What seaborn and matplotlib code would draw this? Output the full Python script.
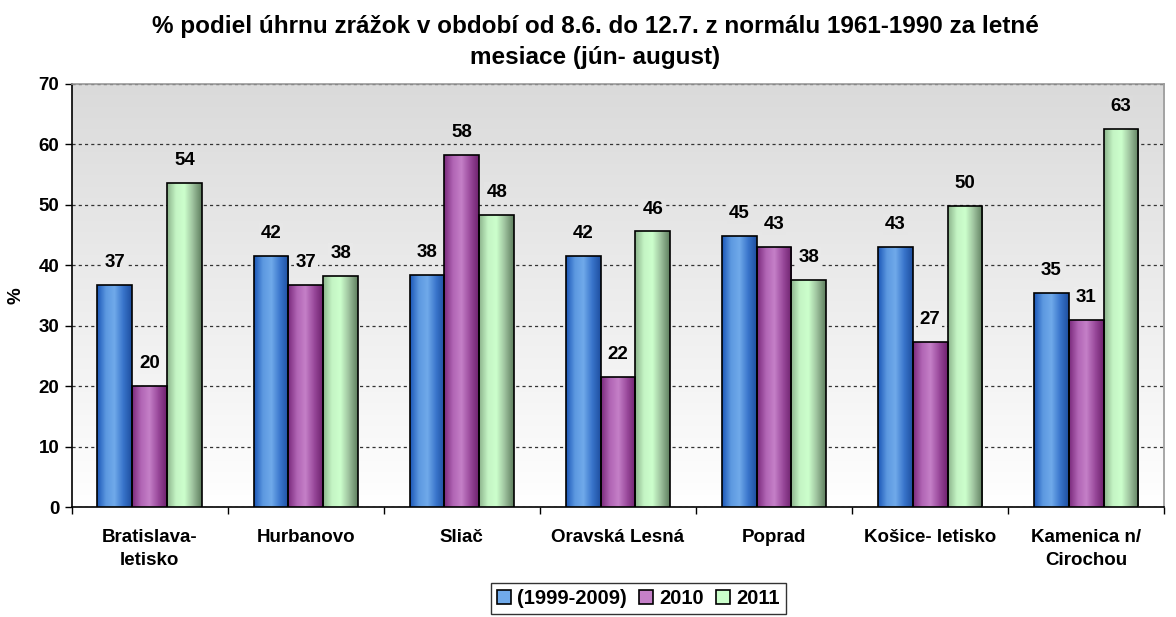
import numpy as np
import pandas as pd
import seaborn as sns
import matplotlib.pyplot as plt
from matplotlib.colors import LinearSegmentedColormap
from matplotlib.patches import Patch

stations = ["Bratislava-\nletisko", "Hurbanovo", "Sliač", "Oravská Lesná",
            "Poprad", "Košice- letisko", "Kamenica n/\nCirochou"]
series = ["(1999-2009)", "2010", "2011"]
v_norm = [36.8, 41.6, 38.4, 41.6, 44.8, 43.1, 35.4]
v_2010 = [20.0, 36.8, 58.3, 21.6, 43.1, 27.3, 31.0]
v_2011 = [53.6, 38.2, 48.3, 45.6, 37.6, 49.8, 62.6]

title = "% podiel úhrnu zrážok v období od 8.6. do 12.7. z normálu 1961-1990 za letné\nmesiace (jún- august)"

df = pd.DataFrame({
    "station": stations * 3,
    "series": [s for s in series for _ in stations],
    "value": v_norm + v_2010 + v_2011,
})

sns.set_style("white")
plt.rcParams['font.family'] = ['Liberation Sans', 'DejaVu Sans']
plt.rcParams['font.weight'] = 'bold'
for k in ['text.color', 'axes.labelcolor', 'xtick.color', 'ytick.color']:
    plt.rcParams[k] = 'black'

flat = ["#4f8ad8", "#a855a8", "#b8e8b8"]
grads = [
    ["#1c58b8", "#5c98e0", "#70aaea", "#3a76cc", "#1e4fa0"],
    ["#7a2a7c", "#b064b4", "#c580c8", "#9a4a9c", "#6e226e"],
    ["#8cb48c", "#c4f4c4", "#ccffcc", "#9cc09c", "#5f7f5f"],
]
FS = 13.5

fig = plt.figure(figsize=(11.76, 6.17), dpi=100)
ax = fig.add_axes([0.061, 0.178, 0.929, 0.686])

sns.barplot(data=df, x="station", y="value", hue="series", palette=flat,
            width=0.67, edgecolor="black", linewidth=1.2, ax=ax, legend=False,
            zorder=3)

# background gradient of the plot area
bg = LinearSegmentedColormap.from_list("bg", ["#ffffff", "#dadada"])
ax.imshow(np.linspace(0, 1, 256).reshape(-1, 1), cmap=bg, origin="lower",
          extent=(-0.5, len(stations) - 0.5, 0, 70), aspect="auto", zorder=0)

# gradient fill of bars
for cont, cols in zip(ax.containers, grads):
    cm = LinearSegmentedColormap.from_list("g", cols)
    for p in cont.patches:
        x0, y0 = p.get_x(), p.get_y()
        w, h = p.get_width(), p.get_height()
        im = ax.imshow(np.linspace(0, 1, 64).reshape(1, -1), cmap=cm,
                       extent=(x0, x0 + w, y0, y0 + h), aspect="auto", zorder=3.5)
        im.set_clip_path(p)
        p.set_zorder(4)
        p.set_facecolor("none")

ax.set_xlim(-0.5, len(stations) - 0.5)
ax.set_ylim(0, 70)

# value labels
for cont in ax.containers:
    for p in cont.patches:
        h = p.get_height()
        yl = h + 3.7
        g = 1 - 0.145 * yl / 70
        ax.text(p.get_x() + p.get_width() / 2, yl, f"{h:.0f}", ha="center",
                va="center", fontsize=FS, fontweight="bold", zorder=6,
                bbox=dict(boxstyle="square,pad=0.1", fc=(g, g, g), ec="none"))

ax.set_yticks(range(0, 71, 10))
ax.yaxis.grid(True, linestyle=(0, (2.5, 2.5)), color="#333333", linewidth=0.9, zorder=1)
ax.set_axisbelow(True)
ax.tick_params(axis="y", direction="out", length=5, width=1, labelsize=FS, pad=4, left=True)
ax.tick_params(axis="x", length=0, labelsize=FS, pad=16)
ax.set_xticks(np.arange(-0.5, len(stations), 1), minor=True)
ax.tick_params(axis="x", which="minor", direction="out", length=5, width=1, bottom=True)
for lbl in ax.get_xticklabels() + ax.get_yticklabels():
    lbl.set_fontweight("bold")
    lbl.set_linespacing(1.4)

ax.set_xlabel("")
ax.set_ylabel("%", fontsize=FS, fontweight="bold", labelpad=10)

for s in ["left", "bottom"]:
    ax.spines[s].set_color("black")
    ax.spines[s].set_linewidth(1.2)
for s in ["top", "right"]:
    ax.spines[s].set_color("#999999")
    ax.spines[s].set_linewidth(1.2)

fig.suptitle(title, fontsize=17.5, fontweight="bold", x=0.506, y=0.975,
             linespacing=1.4, va="top")

handles = [Patch(facecolor=c, edgecolor="black", linewidth=1.2) for c in [g[2] for g in grads]]
leg = fig.legend(handles, series, loc="lower center", ncol=3,
                 bbox_to_anchor=(0.543, 0.005), borderaxespad=0,
                 frameon=True, fancybox=False,
                 handlelength=0.7, handleheight=0.7, handletextpad=0.3,
                 columnspacing=0.6, borderpad=0.3,
                 prop=dict(weight="bold", size=14.5))
leg.get_frame().set_edgecolor("black")
leg.get_frame().set_linewidth(1)

fig.savefig("out.png", dpi=100)
